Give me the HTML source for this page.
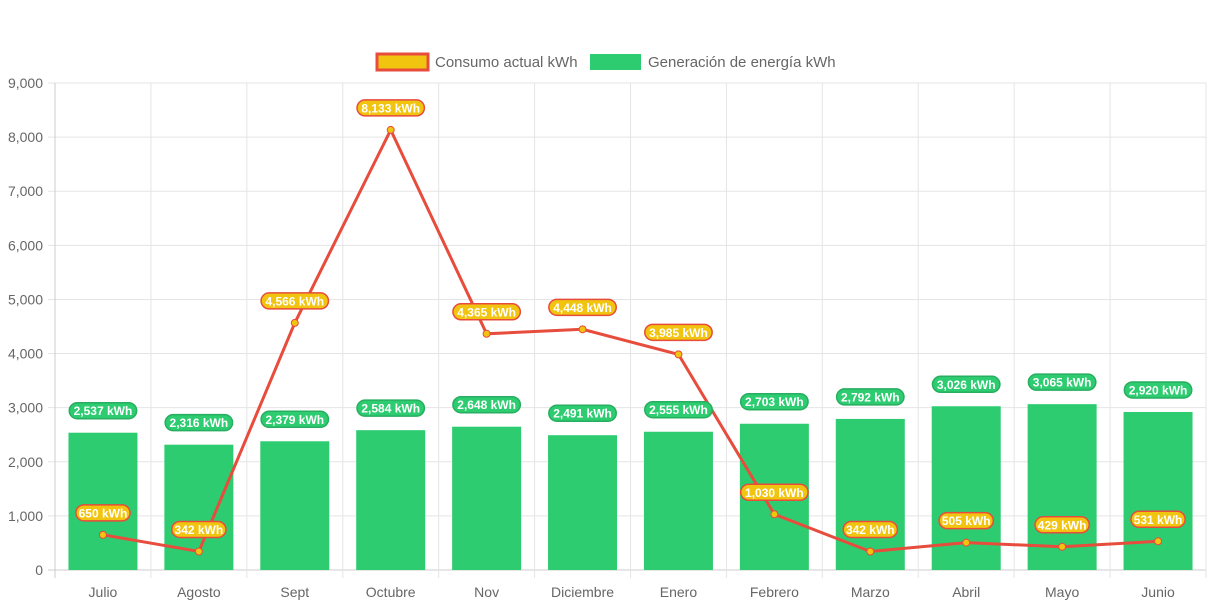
<!DOCTYPE html>
<html><head><meta charset="utf-8"><style>
body{margin:0;background:#fff;font-family:"Liberation Sans",sans-serif}
svg{display:block}
</style></head><body>
<svg id="chart" width="1213" height="606">
<g>
<g>
<rect x="377" y="54" width="51" height="16" fill="#f1c40f" stroke="#e74c3c" stroke-width="3"/>
<text x="435" y="67" font-size="15" fill="#666">Consumo actual kWh</text></g>
<g>
<rect x="590" y="54" width="51" height="16" fill="#2ecc71"/>
<text x="648" y="67" font-size="15" fill="#666">Generación de energía kWh</text></g>
</g>
<g id="grid"></g><g id="bars"></g><g id="line"></g><g id="labels"></g>
</svg>
<script>
const categories=["Julio","Agosto","Sept","Octubre","Nov","Diciembre","Enero","Febrero","Marzo","Abril","Mayo","Junio"];
const consumo=[650,342,4566,8133,4365,4448,3985,1030,342,505,429,531];
const generacion=[2537,2316,2379,2584,2648,2491,2555,2703,2792,3026,3065,2920];
const yTicks=[0,1000,2000,3000,4000,5000,6000,7000,8000,9000];
const NS="http://www.w3.org/2000/svg";
const L=55,R=1206,T=83,B=570,YMAX=9000;
const bw=(R-L)/categories.length;
const x=i=>L+bw*(i+0.5);
const y=v=>B-(v/YMAX)*(B-T);
function mk(p,tag,a){const e=document.createElementNS(NS,tag);for(const k in a)e.setAttribute(k,a[k]);p.appendChild(e);return e;}
const fmt=v=>v.toLocaleString('en-US');
const grid=document.getElementById('grid');
yTicks.forEach(t=>{
 const l=mk(grid,'line',{x1:L-7,x2:R,y1:y(t),y2:y(t),stroke:t===0?'#ccc':'#e5e5e5'});
 
 
 const tx=mk(grid,'text',{x:L-12,y:y(t)+5,'text-anchor':'end','font-size':14,fill:'#666'});
 tx.textContent=fmt(t);
 
 
});
for(let i=0;i<=categories.length;i++){
 const gx=L+bw*i;
 const l=mk(grid,'line',{x1:gx,x2:gx,y1:T,y2:B+8,stroke:i===0?'#ccc':'#e5e5e5'});
 
 
}
categories.forEach((c,i)=>{
 const tx=mk(grid,'text',{x:x(i),y:597,'text-anchor':'middle','font-size':14,fill:'#666'});
 tx.textContent=c;
 
 
});
const bars=document.getElementById('bars'),labels=document.getElementById('labels');
function label(cx,cy,txt,fill,stroke){
 const g=mk(labels,'g',{});
 
 
 const w=txt.length*6.6+8;
 mk(g,'rect',{x:cx-w/2,y:cy-8,width:w,height:16,rx:8,fill:fill,stroke:stroke,'stroke-width':1.5});
 const t=mk(g,'text',{x:cx,y:cy+4.5,'text-anchor':'middle','font-size':12,'font-weight':'bold',fill:'#fff'});
 t.textContent=txt;
}
generacion.forEach((v,i)=>{
 const r=mk(bars,'rect',{x:x(i)-34.5,y:y(v),width:69,height:B-y(v),fill:'#2ecc71'});
 
 
 label(x(i),y(v)-22,fmt(v)+' kWh','#2ecc71','#27ae60');
});
const lg=document.getElementById('line');
const pl=mk(lg,'polyline',{points:consumo.map((v,i)=>x(i)+','+y(v)).join(' '),fill:'none',stroke:'#e74c3c','stroke-width':3});


consumo.forEach((v,i)=>{
 const c=mk(lg,'circle',{cx:x(i),cy:y(v),r:3.5,fill:'#f1c40f',stroke:'#e74c3c','stroke-width':1});
 
 
 label(x(i),y(v)-22,fmt(v)+' kWh','#f1c40f','#e74c3c');
});
</script>
</body></html>
